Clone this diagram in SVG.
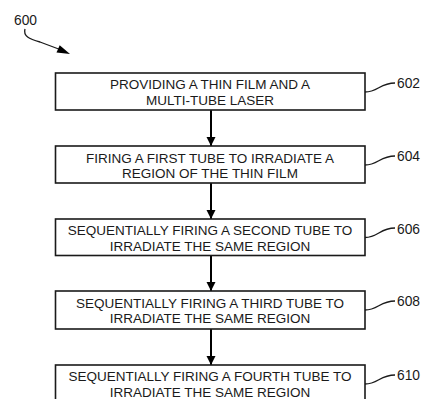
<svg xmlns="http://www.w3.org/2000/svg" width="425" height="399" viewBox="0 0 425 399">
<style>
.box{fill:#fff;stroke:#1a1a1a;stroke-width:1.6}
.t{font-family:"Liberation Sans",Arial,sans-serif;font-size:13.5px;fill:#1a1a1a;text-anchor:middle}
.lbl{font-family:"Liberation Sans",Arial,sans-serif;font-size:13.8px;fill:#1a1a1a}
.lead{fill:none;stroke:#1a1a1a;stroke-width:1.3}
.conn{stroke:#000;stroke-width:2}
</style>
<defs>
<marker id="ah" viewBox="0 0 10 10" refX="10" refY="5" markerWidth="9" markerHeight="12" markerUnits="userSpaceOnUse" orient="auto">
<path d="M0,0 L10,5 L0,10 Z" fill="#000"/>
</marker>
</defs>
<g id="ref600">
<text class="lbl" x="14" y="25">600</text>
<path class="lead" d="M25,29 C23,36 29,39 40,42 L60,49.5" stroke-width="1.6"/>
<polygon points="70,54 56.5,52.5 59.7,45.2" fill="#000"/>
</g>
<g id="connectors">
<line class="conn" x1="211" y1="110" x2="211" y2="146" marker-end="url(#ah)"/>
<line class="conn" x1="211" y1="183" x2="211" y2="219" marker-end="url(#ah)"/>
<line class="conn" x1="211" y1="255" x2="211" y2="291" marker-end="url(#ah)"/>
<line class="conn" x1="211" y1="329" x2="211" y2="365" marker-end="url(#ah)"/>
</g>
<g id="n602">
<rect class="box" x="55.5" y="73" width="309.5" height="37"/>
<text class="t" x="210" y="89">PROVIDING A THIN FILM AND A</text>
<text class="t" x="210" y="104.5">MULTI-TUBE LASER</text>
<path class="lead" d="M365,92 C378,92 380,83 395,83"/>
<text class="lbl" x="397" y="88">602</text>
</g>
<g id="n604">
<rect class="box" x="55.5" y="146" width="309.5" height="37"/>
<text class="t" x="210" y="162.5">FIRING A FIRST TUBE TO IRRADIATE A</text>
<text class="t" x="210" y="178">REGION OF THE THIN FILM</text>
<path class="lead" d="M365,165 C378,165 380,156 395,156"/>
<text class="lbl" x="397" y="161">604</text>
</g>
<g id="n606">
<rect class="box" x="55.5" y="219" width="309.5" height="36.5"/>
<text class="t" x="210" y="235">SEQUENTIALLY FIRING A SECOND TUBE TO</text>
<text class="t" x="210" y="250.5">IRRADIATE THE SAME REGION</text>
<path class="lead" d="M365,237.5 C378,237.5 380,228 395,228"/>
<text class="lbl" x="397" y="234">606</text>
</g>
<g id="n608">
<rect class="box" x="55.5" y="291" width="309.5" height="38"/>
<text class="t" x="210" y="307.5">SEQUENTIALLY FIRING A THIRD TUBE TO</text>
<text class="t" x="210" y="323">IRRADIATE THE SAME REGION</text>
<path class="lead" d="M365,310 C378,310 380,301 395,301"/>
<text class="lbl" x="397" y="306">608</text>
</g>
<g id="n610">
<rect class="box" x="55.5" y="365" width="309.5" height="40"/>
<text class="t" x="210" y="381">SEQUENTIALLY FIRING A FOURTH TUBE TO</text>
<text class="t" x="210" y="396.5">IRRADIATE THE SAME REGION</text>
<path class="lead" d="M365,384 C378,384 380,375 395,375"/>
<text class="lbl" x="397" y="380">610</text>
</g>
</svg>
